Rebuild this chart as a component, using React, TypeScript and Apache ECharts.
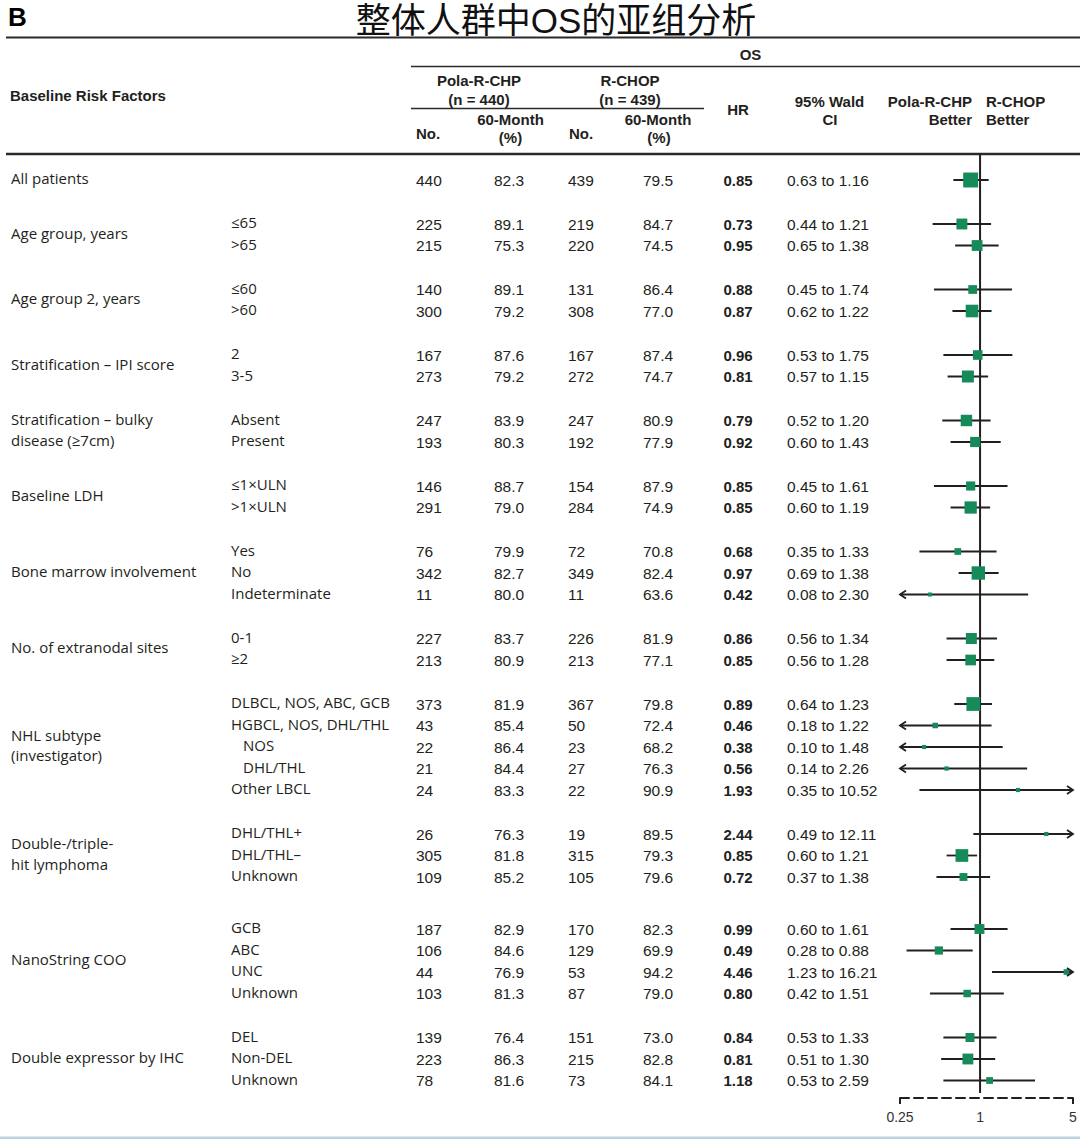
import React, { useEffect, useRef } from "react";
import * as echarts from "echarts";

// ---------------- data ----------------
const TITLE = "整体人群中OS的亚组分析";
const PANEL = "B";

const FACTORS = [
  "All patients",
  "Age group, years",
  "Age group 2, years",
  "Stratification – IPI score",
  "Stratification – bulky\ndisease (≥7cm)",
  "Baseline LDH",
  "Bone marrow involvement",
  "No. of extranodal sites",
  "NHL subtype\n(investigator)",
  "Double-/triple-\nhit lymphoma",
  "NanoString COO",
  "Double expressor by IHC",
];
const GROUP_SIZES = [1, 2, 2, 2, 2, 2, 3, 2, 5, 3, 4, 3];

const SUBGROUPS = [
  "", "≤65", ">65", "≤60", ">60", "2", "3-5", "Absent", "Present", "≤1×ULN", ">1×ULN",
  "Yes", "No", "Indeterminate", "0-1", "≥2",
  "DLBCL, NOS, ABC, GCB", "HGBCL, NOS, DHL/THL", "NOS", "DHL/THL", "Other LBCL",
  "DHL/THL+", "DHL/THL–", "Unknown", "GCB", "ABC", "UNC", "Unknown", "DEL", "Non-DEL", "Unknown",
];
const INDENTED = ["NOS", "DHL/THL"];

const POLA_N = [440, 225, 215, 140, 300, 167, 273, 247, 193, 146, 291, 76, 342, 11, 227, 213, 373, 43, 22, 21, 24, 26, 305, 109, 187, 106, 44, 103, 139, 223, 78];
const POLA_60M = [82.3, 89.1, 75.3, 89.1, 79.2, 87.6, 79.2, 83.9, 80.3, 88.7, 79.0, 79.9, 82.7, 80.0, 83.7, 80.9, 81.9, 85.4, 86.4, 84.4, 83.3, 76.3, 81.8, 85.2, 82.9, 84.6, 76.9, 81.3, 76.4, 86.3, 81.6];
const RCHOP_N = [439, 219, 220, 131, 308, 167, 272, 247, 192, 154, 284, 72, 349, 11, 226, 213, 367, 50, 23, 27, 22, 19, 315, 105, 170, 129, 53, 87, 151, 215, 73];
const RCHOP_60M = [79.5, 84.7, 74.5, 86.4, 77.0, 87.4, 74.7, 80.9, 77.9, 87.9, 74.9, 70.8, 82.4, 63.6, 81.9, 77.1, 79.8, 72.4, 68.2, 76.3, 90.9, 89.5, 79.3, 79.6, 82.3, 69.9, 94.2, 79.0, 73.0, 82.8, 84.1];
const HR = [0.85, 0.73, 0.95, 0.88, 0.87, 0.96, 0.81, 0.79, 0.92, 0.85, 0.85, 0.68, 0.97, 0.42, 0.86, 0.85, 0.89, 0.46, 0.38, 0.56, 1.93, 2.44, 0.85, 0.72, 0.99, 0.49, 4.46, 0.80, 0.84, 0.81, 1.18];
const CI_LO = [0.63, 0.44, 0.65, 0.45, 0.62, 0.53, 0.57, 0.52, 0.60, 0.45, 0.60, 0.35, 0.69, 0.08, 0.56, 0.56, 0.64, 0.18, 0.10, 0.14, 0.35, 0.49, 0.60, 0.37, 0.60, 0.28, 1.23, 0.42, 0.53, 0.51, 0.53];
const CI_HI = [1.16, 1.21, 1.38, 1.74, 1.22, 1.75, 1.15, 1.20, 1.43, 1.61, 1.19, 1.33, 1.38, 2.30, 1.34, 1.28, 1.23, 1.22, 1.48, 2.26, 10.52, 12.11, 1.21, 1.38, 1.61, 0.88, 16.21, 1.51, 1.33, 1.30, 2.59];

// In the forest panel the double-/triple-hit rows are drawn at values that differ
// from the table; these are read off the picture: [HR, lower, upper]
const PLOTTED_OVERRIDES: Record<number, [number, number, number]> = {
  21: [3.15, 0.89, 12.11],
  22: [0.73, 0.56, 0.95],
  23: [0.75, 0.47, 1.19],
};

const AXIS_TICKS = [0.25, 1, 5];

// ---------------- layout ----------------
const W = 1080;
const H = 1139;
const FIRST_ROW_Y = 180;
const ROW_PX = 21.5;
const GROUP_GAP_PX = 22.5;
const EXTRA_GAP_BEFORE: Record<number, number> = { 10: 8 };
const TABLE_TOP = 154;
const AXIS_Y = 1098;
const FOREST_LEFT = 900;
const FOREST_RIGHT = 1073;

const INK = "#231f20";
const GREEN = "#178a5a";
const LABEL_FONT = '15px "Open Sans"';
const NUM_FONT = '15.5px "Liberation Sans"';
const HR_FONT = 'bold 15px "Liberation Sans"';
const HEAD_FONT = 'bold 15px "Liberation Sans"';

const COL = {
  factor: 11,
  sub: 231,
  subIndent: 243,
  polaN: 416,
  pola60: 509,
  rchopN: 568,
  rchop60: 658,
  hr: 738,
  ci: 787,
};

export default function App() {
  const ref = useRef<HTMLDivElement>(null);

  useEffect(() => {
    if (!ref.current) return;
    const chart = echarts.init(ref.current, undefined, { renderer: "svg" });

    // row positions (offset in px from first row)
    const rowGroup: number[] = [];
    GROUP_SIZES.forEach((n, g) => {
      for (let k = 0; k < n; k++) rowGroup.push(g);
    });
    let extraAcc = 0;
    const groupExtra: number[] = GROUP_SIZES.map((_, g) => {
      extraAcc += EXTRA_GAP_BEFORE[g] || 0;
      return extraAcc;
    });
    const rowV = SUBGROUPS.map((_, i) => ROW_PX * i + GROUP_GAP_PX * rowGroup[i] + groupExtra[rowGroup[i]]);
    const groupCenter: number[] = [];
    let start = 0;
    GROUP_SIZES.forEach((n) => {
      groupCenter.push((rowV[start] + rowV[start + n - 1]) / 2);
      start += n;
    });
    const yMin = TABLE_TOP - FIRST_ROW_Y;
    const yMax = AXIS_Y - FIRST_ROW_Y;
    const lnMin = Math.log(AXIS_TICKS[0]);
    const lnMax = Math.log(AXIS_TICKS[AXIS_TICKS.length - 1]);

    const txt = (text: string, x: number, y: number, font: string, align: string, extra: any = {}) => ({
      type: "text",
      x,
      y,
      silent: true,
      style: { text, font, fill: INK, align, verticalAlign: "middle", ...extra },
    });

    const tableData = SUBGROUPS.map((_, i) => [0, rowV[i], i]);
    const factorData = FACTORS.map((_, g) => [0, groupCenter[g], g]);
    const forestData = SUBGROUPS.map((_, i) => {
      const ov = PLOTTED_OVERRIDES[i];
      const hr = ov ? ov[0] : HR[i];
      const lo = ov ? ov[1] : CI_LO[i];
      const hi = ov ? ov[2] : CI_HI[i];
      const n = POLA_N[i] + RCHOP_N[i];
      const size = Math.max(4, 1 + 0.47 * Math.sqrt(n));
      return [Math.log(hr), rowV[i], i, Math.log(lo), Math.log(hi), size];
    });

    const headerLines = [
      { x1: 6, x2: W, y: 37.5, w: 2 },
      { x1: 411, x2: W, y: 66.5, w: 1.5 },
      { x1: 411, x2: 704, y: 108.5, w: 1.5 },
      { x1: 6, x2: W, y: TABLE_TOP, w: 2.5 },
    ];

    const headerTexts = [
      ["OS", 750.5, 54, "center"],
      ["Pola-R-CHP", 479, 80, "center"],
      ["(n = 440)", 479, 99, "center"],
      ["R-CHOP", 630, 80, "center"],
      ["(n = 439)", 630, 99, "center"],
      ["No.", 416, 133, "left"],
      ["60-Month", 510.5, 119, "center"],
      ["(%)", 510.5, 137.5, "center"],
      ["No.", 569, 133, "left"],
      ["60-Month", 658, 119, "center"],
      ["(%)", 659, 137.5, "center"],
      ["HR", 738, 109, "center"],
      ["95% Wald", 829.5, 101, "center"],
      ["CI", 830, 119, "center"],
      ["Pola-R-CHP", 972, 101, "right"],
      ["Better", 972, 119, "right"],
      ["R-CHOP", 986, 101, "left"],
      ["Better", 986, 119, "left"],
      ["Baseline Risk Factors", 10, 95, "left"],
    ] as [string, number, number, string][];

    const option: any = {
      animation: false,
      backgroundColor: "#ffffff",
      grid: [
        { left: 0, right: 0, top: TABLE_TOP, bottom: H - AXIS_Y, outerBoundsMode: "none", containLabel: false },
        { left: FOREST_LEFT, right: W - FOREST_RIGHT, top: TABLE_TOP, bottom: H - AXIS_Y, outerBoundsMode: "none", containLabel: false },
      ],
      xAxis: [
        { type: "value", gridIndex: 0, min: 0, max: W, show: false },
        {
          type: "value",
          gridIndex: 1,
          min: lnMin,
          max: lnMax,
          axisLine: { show: true, onZero: false, lineStyle: { color: INK, width: 2, type: [9, 5] } },
          axisTick: {
            show: true,
            length: 6,
            inside: false,
            lineStyle: { color: INK, width: 2 },
            customValues: [lnMin, lnMax],
          },
          axisLabel: {
            show: true,
            margin: 12,
            color: "#333",
            fontSize: 14,
            fontFamily: "Liberation Sans",
            customValues: AXIS_TICKS.map((t) => Math.log(t)),
            formatter: (v: number) => {
              const x = Math.exp(v);
              return x < 1 ? x.toFixed(2) : String(Math.round(x));
            },
          },
          splitLine: { show: false },
        },
      ],
      yAxis: [
        { type: "value", gridIndex: 0, min: yMin, max: yMax, inverse: true, show: false },
        { type: "value", gridIndex: 1, min: yMin, max: yMax, inverse: true, show: false },
      ],
      graphic: [
        {
          type: "text",
          left: 8,
          top: 4,
          style: { text: PANEL, font: 'bold 26px "Liberation Sans"', fill: "#000" },
        },
        {
          type: "text",
          x: 556,
          y: 20,
          style: {
            text: TITLE,
            font: '35px "Liberation Sans Narrow", "Liberation Sans", "Noto Sans CJK SC"',
            lineHeight: 35,
            fill: "#111",
            align: "center",
            verticalAlign: "middle",
          },
        },
        ...headerLines.map((l) => ({
          type: "line",
          shape: { x1: l.x1, y1: l.y, x2: l.x2, y2: l.y },
          style: { stroke: "#2a2a2a", lineWidth: l.w },
        })),
        ...headerTexts.map(([t, x, y, a]) => ({
          type: "text",
          x,
          y,
          style: { text: t, font: HEAD_FONT, fill: INK, align: a, verticalAlign: "middle" },
        })),
        {
          type: "rect",
          shape: { x: 0, y: H - 2.5, width: W, height: 2.5 },
          style: { fill: "#bcd4e0" },
        },
      ],
      series: [
        {
          type: "custom",
          name: "factors",
          xAxisIndex: 0,
          yAxisIndex: 0,
          silent: true,
          encode: { x: 0, y: 1 },
          data: factorData,
          renderItem: (params: any, api: any) => {
            const g = api.value(2);
            const py = api.coord([0, api.value(1)])[1];
            return {
              type: "group",
              children: [txt(FACTORS[g], COL.factor, py - 2, LABEL_FONT, "left", { lineHeight: 20.5 })],
            };
          },
        },
        {
          type: "custom",
          name: "table",
          xAxisIndex: 0,
          yAxisIndex: 0,
          silent: true,
          encode: { x: 0, y: 1 },
          data: tableData,
          renderItem: (params: any, api: any) => {
            const i = api.value(2);
            const py = api.coord([0, api.value(1)])[1];
            const sub = SUBGROUPS[i];
            const subX = INDENTED.includes(sub) ? COL.subIndent : COL.sub;
            const children: any[] = [];
            if (sub) children.push(txt(sub, subX, py - 2, LABEL_FONT, "left"));
            children.push(txt(String(POLA_N[i]), COL.polaN, py, NUM_FONT, "left"));
            children.push(txt(POLA_60M[i].toFixed(1), COL.pola60, py, NUM_FONT, "center"));
            children.push(txt(String(RCHOP_N[i]), COL.rchopN, py, NUM_FONT, "left"));
            children.push(txt(RCHOP_60M[i].toFixed(1), COL.rchop60, py, NUM_FONT, "center"));
            children.push(txt(HR[i].toFixed(2), COL.hr, py, HR_FONT, "center"));
            children.push(
              txt(`${CI_LO[i].toFixed(2)} to ${CI_HI[i].toFixed(2)}`, COL.ci, py, NUM_FONT, "left")
            );
            return { type: "group", children };
          },
        },
        {
          type: "line",
          name: "no effect",
          xAxisIndex: 1,
          yAxisIndex: 1,
          silent: true,
          symbol: "none",
          z: 1,
          lineStyle: { color: INK, width: 2 },
          data: [
            [0, yMin],
            [0, yMax - 5],
          ],
        },
        {
          type: "custom",
          name: "forest",
          xAxisIndex: 1,
          yAxisIndex: 1,
          silent: true,
          z: 3,
          encode: { x: 0, y: 1 },
          data: forestData,
          renderItem: (params: any, api: any) => {
            const y = api.value(1);
            const lnHr = api.value(0);
            const lnLo = api.value(3);
            const lnHi = api.value(4);
            const size = api.value(5);
            const p1 = api.coord([Math.max(lnLo, lnMin), y]);
            const p2 = api.coord([Math.min(lnHi, lnMax), y]);
            const pc = api.coord([lnHr, y]);
            const children: any[] = [
              {
                type: "line",
                shape: { x1: p1[0], y1: p1[1], x2: p2[0], y2: p2[1] },
                style: { stroke: INK, lineWidth: 1.8 },
              },
              {
                type: "rect",
                shape: { x: pc[0] - size / 2, y: pc[1] - size / 2, width: size, height: size },
                style: { fill: GREEN },
              },
            ];
            if (lnLo < lnMin) {
              children.push({
                type: "polyline",
                shape: { points: [[p1[0] + 6, p1[1] - 4], [p1[0], p1[1]], [p1[0] + 6, p1[1] + 4]] },
                style: { stroke: INK, lineWidth: 1.8, fill: "none" },
              });
            }
            if (lnHi > lnMax) {
              children.push({
                type: "polyline",
                shape: { points: [[p2[0] - 6, p2[1] - 4], [p2[0], p2[1]], [p2[0] - 6, p2[1] + 4]] },
                style: { stroke: INK, lineWidth: 1.8, fill: "none" },
              });
            }
            return { type: "group", children };
          },
        },
      ],
    };

    chart.setOption(option);
    return () => chart.dispose();
  }, []);

  return (
    <div
      ref={ref}
      style={{ position: "fixed", left: 0, top: 0, width: W, height: H, background: "#fff" }}
    />
  );
}
